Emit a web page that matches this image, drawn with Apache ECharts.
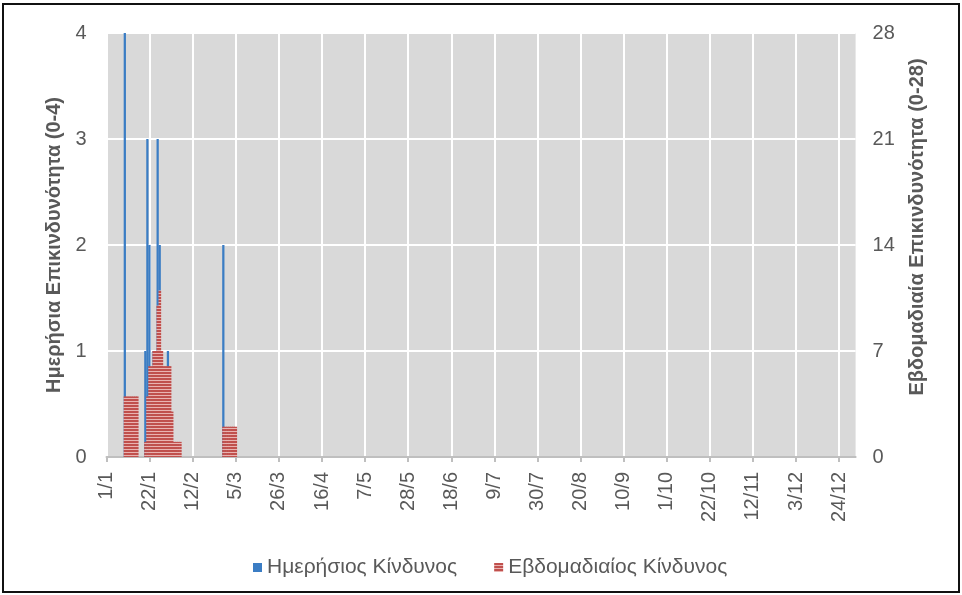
<!DOCTYPE html>
<html><head><meta charset="utf-8">
<script src="https://cdn.jsdelivr.net/npm/echarts@6/dist/echarts.min.js"></script>
<style>
html,body{margin:0;padding:0;background:#fff;}
#c{position:absolute;left:0;top:0;width:962px;height:595px;}
#frame{position:absolute;left:2px;top:3px;width:958px;height:590px;border:2px solid #111;box-sizing:border-box;pointer-events:none;}
</style></head><body>
<div id="c"></div>
<div id="frame"></div>
<script>
// Daily risk (left axis, 0-4)
const dailyDates  = ['10/1','20/1','21/1','22/1','24/1','26/1','27/1','31/1','27/2'];
const dailyValues = [4, 1, 3, 2, 1, 3, 2, 1, 2];

// Weekly risk (right axis, 0-28)
const weeklyDates = ['10/1','11/1','12/1','13/1','14/1','15/1','16/1',
  '20/1','21/1','22/1','23/1','24/1','25/1','26/1','27/1','28/1','29/1','30/1','31/1',
  '1/2','2/2','3/2','4/2','5/2','6/2',
  '27/2','28/2','1/3','2/3','3/3','4/3','5/3'];
const weeklyValues = [4,4,4,4,4,4,4,
  1,4,6,6,7,7,10,11,7,6,6,6,
  6,3,1,1,1,1,
  2,2,2,2,2,2,2];

const seriesNames = ['Ημερήσιος Κίνδυνος', 'Εβδομαδιαίος Κίνδυνος'];
const leftAxisName = 'Ημερήσια Επικινδυνότητα (0-4)';
const rightAxisName = 'Εβδομαδιαία Επικινδυνότητα (0-28)';

// Category axis: every day of the year (plus the closing 1/1)
const categories = [];
const indexOf = {};
for (let i = 0; i <= 365; i++) {
  const dt = new Date(Date.UTC(2021, 0, 1 + i));
  const lab = dt.getUTCDate() + '/' + (dt.getUTCMonth() + 1);
  categories.push(i === 365 ? lab + ' ' : lab);
  if (i < 365) indexOf[lab] = i;
}
function build(dates, vals) {
  const arr = categories.map(() => null);
  dates.forEach((d, k) => { arr[indexOf[d]] = vals[k]; });
  return arr;
}

// stripe pattern for weekly bars
const pc = document.createElement('canvas');
pc.width = 4; pc.height = 3;
const g = pc.getContext('2d');
g.fillStyle = '#c0504d'; g.fillRect(0, 0, 4, 2);
g.fillStyle = '#e9b3b1'; g.fillRect(0, 2, 4, 1);

const FONT = '"Liberation Sans", Arial, sans-serif';
const chart = echarts.init(document.getElementById('c'));
chart.setOption({
  animation: false,
  textStyle: {fontFamily: FONT},
  grid: {left: 106.5, right: 106.4, top: 33, bottom: 138, show: true,
         backgroundColor: '#d9d9d9', borderWidth: 0},
  legend: {
    left: 248, top: 552, itemWidth: 9, itemHeight: 9, itemGap: 37, icon: 'rect',
    textStyle: {fontSize: 21, color: '#595959', fontFamily: FONT},
    data: seriesNames
  },
  xAxis: {
    type: 'category', data: categories, boundaryGap: false,
    axisLine: {lineStyle: {color: '#bfbfbf', width: 2}},
    axisTick: {interval: 20, length: 5, lineStyle: {color: '#bfbfbf', width: 2}},
    axisLabel: {interval: 20, rotate: 90, fontSize: 20, color: '#595959', margin: 15, fontFamily: FONT},
    splitLine: {show: true, interval: 20, lineStyle: {color: '#ffffff', width: 2}}
  },
  yAxis: [{
    type: 'value', min: 0, max: 4, interval: 1, position: 'left',
    axisLine: {show: false}, axisTick: {show: false},
    axisLabel: {fontSize: 20, color: '#595959', margin: 20, fontFamily: FONT},
    splitLine: {lineStyle: {color: '#ffffff', width: 2}},
    name: leftAxisName, nameLocation: 'middle', nameRotate: 90, nameGap: 41,
    nameTextStyle: {fontSize: 20, fontWeight: 'bold', color: '#595959', fontFamily: FONT}
  }, {
    type: 'value', min: 0, max: 28, interval: 7, position: 'right',
    axisLine: {show: false}, axisTick: {show: false},
    axisLabel: {fontSize: 20, color: '#595959', margin: 17, fontFamily: FONT},
    splitLine: {show: false},
    name: rightAxisName, nameLocation: 'middle', nameRotate: 90, nameGap: 52,
    nameTextStyle: {fontSize: 20, fontWeight: 'bold', color: '#595959', fontFamily: FONT,
                    padding: [0, 0, 0, 36]}
  }],
  series: [{
    name: seriesNames[0], type: 'bar', yAxisIndex: 0,
    barWidth: '110%', barGap: '-100%',
    itemStyle: {color: '#3b7dc4'},
    data: build(dailyDates, dailyValues)
  }, {
    name: seriesNames[1], type: 'bar', yAxisIndex: 1,
    barWidth: '125%', barGap: '-100%',
    itemStyle: {color: {image: pc, repeat: 'repeat'}},
    data: build(weeklyDates, weeklyValues)
  }]
});
</script>
</body></html>
